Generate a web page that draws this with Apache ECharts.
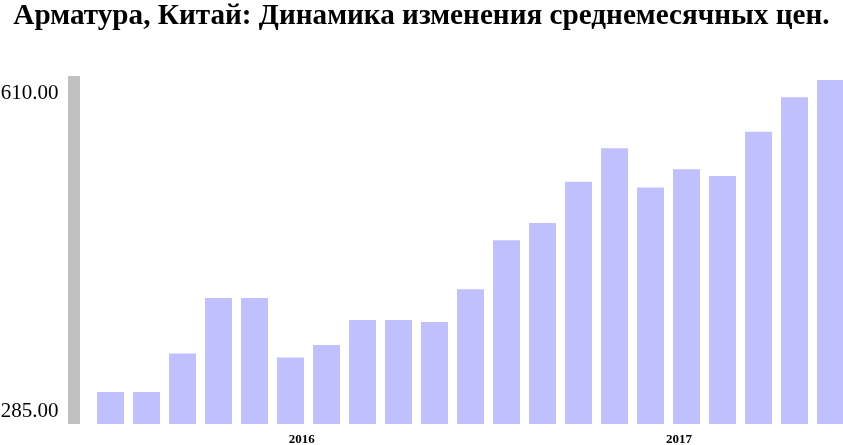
<!DOCTYPE html>
<html>
<head>
<meta charset="utf-8">
<script src="https://cdn.jsdelivr.net/npm/echarts@6/dist/echarts.min.js"></script>
<style>html,body{margin:0;padding:0;background:#fff}#c{width:843px;height:445px}</style>
</head>
<body>
<div id="c"></div>
<script>
var titleText = 'Арматура, Китай: Динамика изменения среднемесячных цен.';
var categories = ['1','2','3','4','5','6','7','8','9','10','11','12','13','14','15','16','17','18','19','20','21'];
var prices = [285, 285, 325, 383, 383, 321, 334, 360, 360, 358, 392, 443, 461, 504, 539, 498, 517, 510, 556, 592, 610];
var yTickValues = [285, 610];
var yTickLabels = ['285.00', '610.00'];
var yearLabelPos = [5.31, 15.79];
var yearLabels = ['2016', '2017'];

var chart = echarts.init(document.getElementById('c'));
chart.setOption({
  animation: false,
  backgroundColor: '#ffffff',
  title: {
    text: titleText,
    left: 'center',
    top: 2,
    padding: 0,
    textStyle: { fontFamily: 'Liberation Serif', fontWeight: 'bold', fontSize: 29.2, color: '#000' }
  },
  grid: { left: 92.5, right: -5.5, top: 76, bottom: 21, outerBoundsMode: 'none', containLabel: false },
  xAxis: [
    {
      type: 'category', data: categories, gridIndex: 0,
      axisLine: { show: false }, axisTick: { show: false }, axisLabel: { show: false }, splitLine: { show: false }
    },
    {
      type: 'value', gridIndex: 0, min: -0.5, max: 20.5, position: 'bottom',
      axisLine: { show: false, onZero: false }, axisTick: { show: false }, splitLine: { show: false },
      axisLabel: {
        customValues: yearLabelPos,
        margin: 9,
        fontFamily: 'Liberation Serif', fontWeight: 'bold', fontSize: 13, color: '#000',
        formatter: function (v) {
          for (var i = 0; i < yearLabelPos.length; i++) { if (Math.abs(yearLabelPos[i] - v) < 1e-6) return yearLabels[i]; }
          return '';
        }
      }
    }
  ],
  yAxis: {
    type: 'value', min: 251.67, max: 614.17, offset: 19,
    axisLine: { show: true, onZero: false, lineStyle: { color: '#c0c0c0', width: 12, cap: 'butt' } },
    axisTick: { show: false },
    splitLine: { show: false },
    axisLabel: {
      customValues: yTickValues,
      margin: 15,
      verticalAlign: 'top',
      fontFamily: 'Liberation Serif', fontSize: 21, color: '#000',
      formatter: function (v) {
        for (var i = 0; i < yTickValues.length; i++) {
          if (Math.abs(yTickValues[i] - v) < 1e-6) return '{' + (i === 0 ? 'lo' : 'hi') + '|' + yTickLabels[i] + '}';
        }
        return '';
      },
      rich: {
        lo: { fontFamily: 'Liberation Serif', fontSize: 21, color: '#000', lineHeight: 39 },
        hi: { fontFamily: 'Liberation Serif', fontSize: 21, color: '#000', lineHeight: 27 }
      }
    }
  },
  series: [{
    type: 'bar', xAxisIndex: 0, data: prices, barWidth: 27,
    itemStyle: { color: '#c0c0ff' }
  }]
});
</script>
</body>
</html>
